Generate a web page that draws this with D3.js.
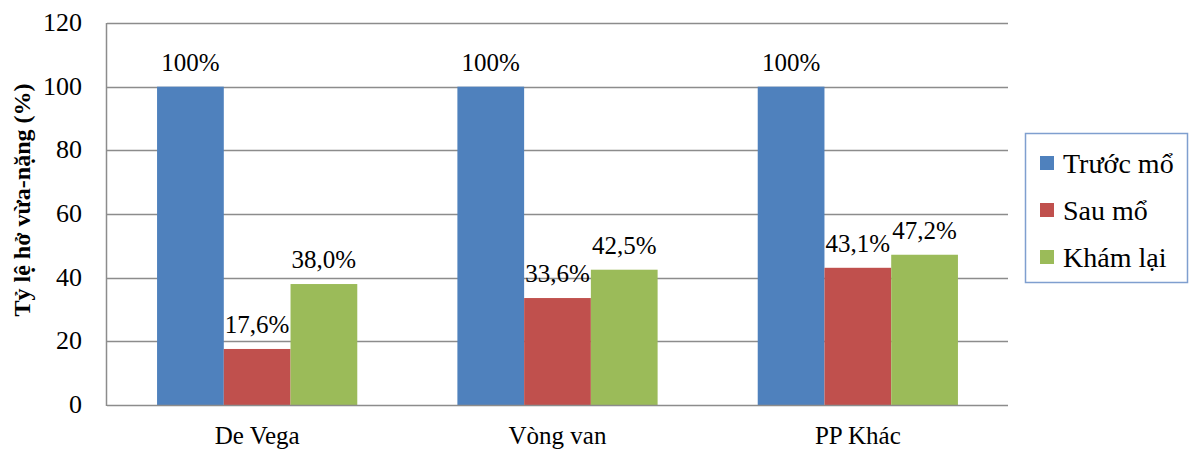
<!DOCTYPE html>
<html><head><meta charset="utf-8">
<script src="https://cdn.jsdelivr.net/npm/d3@7"></script>
<style>body{margin:0;background:#fff}svg{display:block}</style>
</head><body>
<script>
const categories = ["De Vega", "Vòng van", "PP Khác"];
const seriesNames = ["Trước mổ", "Sau mổ", "Khám lại"];
const truocMo = [100, 100, 100];
const sauMo = [17.6, 33.6, 43.1];
const khamLai = [38.0, 42.5, 47.2];
const valueLabels = [["100%", "17,6%", "38,0%"], ["100%", "33,6%", "42,5%"], ["100%", "43,1%", "47,2%"]];
const yTicks = [0, 20, 40, 60, 80, 100, 120];
const colors = ["#4F81BD", "#C0504D", "#9BBB59"];
const series = [truocMo, sauMo, khamLai];

(function () {
const W = 1189, H = 451;
const svg = d3.select("body").append("svg").attr("width", W).attr("height", H);
const pL = 107, pR = 1008, pT = 23, pB = 405;
const serif = "'Liberation Serif', 'Times New Roman', serif";

const y = d3.scaleLinear().domain([0, 120]).range([pB, pT]);
const x = d3.scaleBand().domain(categories).range([pL, pR]).paddingInner(1/3).paddingOuter(1/6);
const xs = d3.scaleBand().domain(d3.range(3)).range([0, x.bandwidth()]);

// gridlines
svg.append("g").selectAll("line").data(yTicks.filter(t => t > 0)).join("line")
  .attr("x1", pL).attr("x2", pR)
  .attr("y1", d => Math.round(y(d)) + 0.5).attr("y2", d => Math.round(y(d)) + 0.5)
  .attr("stroke", "#8c8c8c").attr("stroke-width", 1.5);

// bars
const groups = svg.append("g").selectAll("g").data(categories).join("g")
  .attr("transform", d => `translate(${x(d)},0)`);
groups.each(function(cat, ci) {
  const g = d3.select(this);
  series.forEach((s, si) => {
    g.append("rect").attr("x", xs(si)).attr("width", xs.bandwidth())
      .attr("y", y(s[ci])).attr("height", pB - y(s[ci])).attr("fill", colors[si]);
  });
  series.forEach((s, si) => {
    g.append("text").attr("x", xs(si) + xs.bandwidth() / 2).attr("y", y(s[ci]) - 16)
      .attr("text-anchor", "middle").attr("font-family", serif).attr("font-size", 25)
      .attr("fill", "#000").text(valueLabels[ci][si]);
  });
});

// axes lines
svg.append("line").attr("x1", pL).attr("x2", pR).attr("y1", pB + 0.5).attr("y2", pB + 0.5)
  .attr("stroke", "#8c8c8c").attr("stroke-width", 1.5);
svg.append("line").attr("x1", pL - 0.5).attr("x2", pL - 0.5).attr("y1", pT).attr("y2", pB + 1)
  .attr("stroke", "#8c8c8c").attr("stroke-width", 1.5);

// y tick labels
svg.append("g").selectAll("text").data(yTicks).join("text")
  .attr("x", 82).attr("y", d => y(d) + 8).attr("text-anchor", "end")
  .attr("font-family", serif).attr("font-size", 26).text(d => d);

// x labels
svg.append("g").selectAll("text").data(categories).join("text")
  .attr("x", d => x(d) + x.bandwidth() / 2).attr("y", 444).attr("text-anchor", "middle")
  .attr("font-family", serif).attr("font-size", 25).text(d => d);

// y title
svg.append("text").attr("transform", `translate(30,200) rotate(-90)`).attr("text-anchor", "middle")
  .attr("font-family", serif).attr("font-size", 24).attr("font-weight", "bold")
  .text("Tỷ lệ hở vừa-nặng (%)");

// legend
const lg = svg.append("g");
lg.append("rect").attr("x", 1025.5).attr("y", 133.5).attr("width", 162).attr("height", 149)
  .attr("fill", "#fff").attr("stroke", "#7f9fcf").attr("stroke-width", 1.5);
seriesNames.forEach((n, i) => {
  const cy = 163 + i * 47;
  lg.append("rect").attr("x", 1040).attr("y", cy - 7).attr("width", 14).attr("height", 14).attr("fill", colors[i]);
  lg.append("text").attr("x", 1063).attr("y", cy + 10).attr("font-family", serif).attr("font-size", 28).text(n);
});
})();
</script>
</body></html>
